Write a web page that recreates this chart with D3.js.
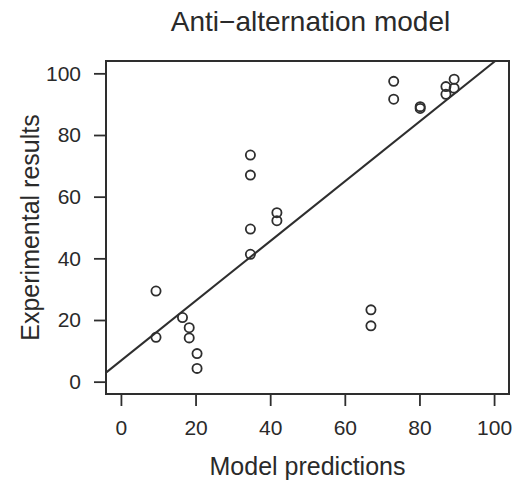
<!DOCTYPE html>
<html>
<head>
<meta charset="utf-8">
<script src="https://cdn.jsdelivr.net/npm/d3@7"></script>
<style>
  html, body { margin: 0; padding: 0; background: #fff; }
  svg { display: block; }
  text { font-family: "Liberation Sans", Arial, Helvetica, sans-serif; fill: #2a2a2a; }
</style>
</head>
<body>
<svg id="chart" width="528" height="483"></svg>
<script>
// ---- data ----
const modelPredictions = [9.4, 9.4, 16.5, 18.3, 18.3, 20.4, 20.4,
                          34.7, 34.7, 34.7, 34.7, 41.8, 41.8,
                          67.0, 67.0, 73.1, 73.1, 80.2, 80.2,
                          87.1, 87.1, 89.3, 89.3];
const experimentalResults = [29.4, 14.4, 20.8, 17.5, 14.2, 9.1, 4.3,
                             41.3, 49.5, 67.0, 73.5, 52.2, 54.8,
                             18.1, 23.3, 91.6, 97.4, 88.6, 89.2,
                             93.2, 95.7, 95.2, 98.1];
const xTicks = [0, 20, 40, 60, 80, 100];
const yTicks = [0, 20, 40, 60, 80, 100];
const fitLine = { intercept: 6.8, slope: 0.969 };
const titleText = "Anti\u2212alternation model";
const xLabel = "Model predictions";
const yLabel = "Experimental results";

// ---- layout ----
const box = { left: 106, right: 509, top: 61, bottom: 394 };
const svg = d3.select("#chart");
const ink = "#2e2e2e";

const x = d3.scaleLinear().domain([-4, 104]).range([box.left, box.right]);
const y = d3.scaleLinear().domain([-4, 104]).range([box.bottom, box.top]);

// clip
svg.append("defs").append("clipPath").attr("id", "plotclip")
  .append("rect").attr("x", box.left).attr("y", box.top)
  .attr("width", box.right - box.left).attr("height", box.bottom - box.top);

// axes
const xAxis = d3.axisBottom(x).tickValues(xTicks).tickSize(12).tickPadding(14).tickSizeOuter(0);
const gx = svg.append("g").attr("transform", `translate(0,${box.bottom})`).call(xAxis);
gx.select(".domain").attr("d", `M${x(0)},0H${x(100)}`);
const yAxis = d3.axisLeft(y).tickValues(yTicks).tickSize(12).tickPadding(13).tickSizeOuter(0);
const gy = svg.append("g").attr("transform", `translate(${box.left},0)`).call(yAxis);
gy.select(".domain").attr("d", `M0,${y(0)}V${y(100)}`);
[gx, gy].forEach(g => {
  g.selectAll("path, line").attr("stroke", ink).attr("stroke-width", 1.8);
  g.selectAll("text").attr("font-size", 21).attr("fill", "#2a2a2a")
   .attr("font-family", '"Liberation Sans", Arial, sans-serif');
});

// box
svg.append("rect").attr("x", box.left).attr("y", box.top)
  .attr("width", box.right - box.left).attr("height", box.bottom - box.top)
  .attr("fill", "none").attr("stroke", ink).attr("stroke-width", 2);

// fit line
const xd = x.domain();
svg.append("line").attr("clip-path", "url(#plotclip)")
  .attr("x1", x(xd[0])).attr("y1", y(fitLine.intercept + fitLine.slope * xd[0]))
  .attr("x2", x(xd[1])).attr("y2", y(fitLine.intercept + fitLine.slope * xd[1]))
  .attr("stroke", ink).attr("stroke-width", 2);

// points
svg.append("g").selectAll("circle")
  .data(modelPredictions.map((v, i) => [v, experimentalResults[i]]))
  .join("circle")
  .attr("cx", d => x(d[0])).attr("cy", d => y(d[1]))
  .attr("r", 4.6).attr("fill", "none").attr("stroke", ink).attr("stroke-width", 1.8);

// title and labels
svg.append("text").attr("x", (box.left + box.right) / 2 + 3).attr("y", 31)
  .attr("text-anchor", "middle").attr("font-size", 28).text(titleText);
svg.append("text").attr("x", (box.left + box.right) / 2).attr("y", 475)
  .attr("text-anchor", "middle").attr("font-size", 25).text(xLabel);
svg.append("text").attr("transform", `translate(39,${(box.top + box.bottom) / 2}) rotate(-90)`)
  .attr("text-anchor", "middle").attr("font-size", 25).text(yLabel);
</script>
</body>
</html>
